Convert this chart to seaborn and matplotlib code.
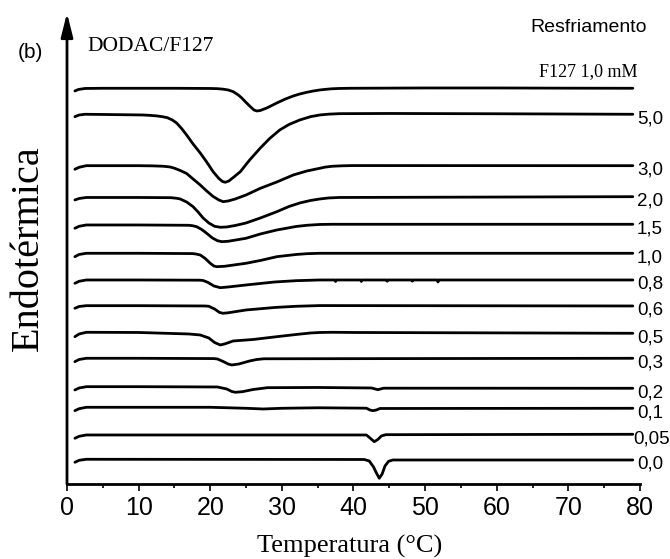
import numpy as np
import pandas as pd
import matplotlib
matplotlib.use("Agg")
import matplotlib.pyplot as plt
import seaborn as sns

# ---- data (temperature in °C, heat-flow signal in arbitrary stacked units) ----
T_f127 = [1.1, 1.6, 2.5, 5, 10, 15, 20, 21, 21.8, 22.5, 23.2, 23.6, 24, 24.4, 25, 25.6, 26.1, 26.5, 27, 27.9, 29.3, 30.5, 31.6, 32.5, 33.5, 34.4, 35.3, 36.2, 37, 38, 39.5, 50, 60, 70, 79]
y_f127 = [393, 394.5, 395.5, 395.7, 395.7, 395.7, 395.5, 395.3, 394.8, 394, 392.3, 390.5, 388.5, 386, 381.5, 377.3, 374, 373, 373.5, 376, 381, 385, 388, 390, 391.7, 393, 394, 394.7, 395.2, 395.5, 395.7, 396, 396, 395.8, 395.7]

T_50 = [1.1, 1.7, 2.5, 5, 10.6, 11.8, 12.6, 13.3, 14, 14.7, 15.3, 16, 16.7, 17.6, 18.6, 19.5, 20.4, 21.2, 21.7, 22.1, 22.6, 23.3, 24.2, 25.5, 27, 28.3, 29.7, 31, 32.5, 34, 35.3, 36.5, 38, 45, 60, 79]
y_50 = [367.3, 369, 369.7, 369.5, 369, 368.5, 368, 367.3, 366.3, 364, 361, 355.5, 349, 340, 331, 322, 312.3, 305.5, 302.5, 301.7, 303, 307, 312.3, 324, 336, 345.5, 354, 359.5, 364, 367.3, 369, 369.8, 370.3, 370.5, 370.2, 369.7]

T_30 = [1.1, 1.7, 2.7, 10, 12, 13.5, 14.4, 15.1, 15.8, 16.7, 17.6, 18.6, 19.5, 20.4, 21.2, 21.8, 22.5, 23.5, 25, 27, 29.3, 31.6, 33.5, 35.3, 36, 37, 38.5, 40, 79]
y_30 = [314.7, 316.7, 318.3, 318.3, 318.1, 317.7, 317, 315.5, 313.5, 310.5, 305, 299, 293, 287.5, 284, 282.3, 283, 285, 289, 295.7, 302, 309, 313, 315.7, 316.8, 317.7, 318.2, 318.4, 318.3]

T_20 = [1.1, 1.7, 2.7, 10, 14.5, 15.3, 15.8, 16.7, 17.6, 18.3, 19, 19.8, 20.6, 21.4, 22.3, 23.5, 25, 27, 29.3, 31, 32.5, 34, 35.3, 36.5, 38, 79]
y_20 = [284, 285.5, 286.5, 286.5, 286.3, 285.7, 285, 282, 277.3, 272, 266, 261, 257.7, 256.7, 257, 258.5, 261, 266, 272.3, 277.5, 281, 283.5, 285, 286, 286.5, 287.3]

T_15 = [1.1, 1.7, 2.7, 10, 17, 17.5, 18.1, 18.8, 19.5, 20.3, 21, 21.6, 22.5, 25, 27, 29.3, 32, 33.5, 35.3, 37, 79]
y_15 = [255.7, 257.7, 259, 259, 258.7, 258.3, 257.3, 254.5, 250.7, 246, 243.3, 242.3, 242.7, 245.7, 250, 254, 257.5, 258.7, 259.5, 259.7, 259.7]

T_10 = [1.1, 1.7, 2.7, 10, 17.5, 18, 18.6, 19.3, 20, 20.5, 20.9, 22, 25, 27, 29.3, 32, 33.5, 35.3, 79]
y_10 = [227.3, 229.5, 230.7, 230.7, 230.4, 230, 229, 225.5, 220.7, 218, 217.3, 217.7, 220.7, 223.5, 227.3, 229.5, 230.3, 230.7, 230.7]

T_08 = [1.1, 1.7, 2.7, 10, 18.5, 19, 19.7, 20.5, 21.4, 22.5, 25, 29, 32, 35.3, 37.4, 37.5, 37.6, 41.0, 41.1, 41.2, 44.6, 44.7, 44.8, 48.1, 48.2, 48.3, 51.7, 51.8, 51.9, 79]
y_08 = [200.7, 202.7, 204, 204, 203.8, 203.5, 201.5, 198, 196.3, 197, 199, 202, 203.3, 204, 204, 202.5, 204, 204, 202.5, 204, 204, 202.8, 204, 204, 202.8, 204, 204, 202, 204, 204]

T_06 = [1.1, 1.7, 2.7, 10, 19.3, 19.8, 20.6, 21.3, 21.8, 22.5, 25, 29, 32, 35.3, 79]
y_06 = [175.7, 177.5, 178.3, 178.3, 178, 177.7, 175, 171.5, 170.7, 171.2, 174, 176.5, 177.7, 178.4, 178]

T_05 = [1.1, 1.7, 2.7, 10, 17, 18.6, 19.8, 20.6, 21.4, 22, 23.2, 26, 29.3, 32, 34, 35.3, 37, 40, 79]
y_05 = [147.3, 150, 151.7, 151.5, 150, 149, 146, 141.5, 139, 140, 143, 144.5, 147.3, 149.5, 151, 151.5, 151.7, 151.5, 150.7]

T_03 = [1.1, 1.7, 2.7, 10, 20.5, 21, 21.8, 22.5, 23, 24, 25.5, 26.5, 27.5, 79]
y_03 = [122.3, 124.5, 125.7, 125.7, 125.4, 125, 122.5, 120, 119, 120, 123, 124.5, 125.2, 125.7]

T_02 = [1.1, 1.7, 2.7, 10, 21, 22.3, 23, 23.5, 24.5, 26, 28, 35, 42.5, 43.4, 44.2, 79]
y_02 = [94, 96, 97.3, 97.3, 97, 95, 92.5, 91.7, 92.3, 94.5, 96.3, 96.5, 96, 94.3, 95.8, 95.7]

T_01 = [1.1, 1.7, 2.7, 20, 25, 27.4, 30, 35, 41.8, 42.3, 42.7, 43.2, 43.7, 79]
y_01 = [73.3, 75.3, 76.7, 76.7, 75.7, 75, 75.7, 76.2, 75.8, 74, 73.3, 74, 75.5, 75.7]

T_005 = [1.1, 1.7, 2.7, 41.8, 42.3, 42.9, 43.4, 43.9, 44.5, 79]
y_005 = [45.7, 47.7, 49, 49, 46, 42.3, 44.5, 48, 49.3, 49.7]

T_00 = [1.1, 1.7, 2.7, 41.5, 42.2, 42.8, 43.2, 43.6, 44.0, 44.4, 44.9, 45.5, 79]
y_00 = [21.7, 23.7, 24.7, 24.5, 23, 17, 11, 5.7, 10, 18, 22.7, 24, 24]

sample_labels = ["5,0", "3,0", "2,0", "1,5", "1,0", "0,8", "0,6", "0,5", "0,3", "0,2", "0,1", "0,05", "0,0"]
sample_T = [T_50, T_30, T_20, T_15, T_10, T_08, T_06, T_05, T_03, T_02, T_01, T_005, T_00]
sample_y = [y_50, y_30, y_20, y_15, y_10, y_08, y_06, y_05, y_03, y_02, y_01, y_005, y_00]

xticks = [0, 10, 20, 30, 40, 50, 60, 70, 80]

# ---- build long table ----
rows = []
for T, y in zip(T_f127, y_f127):
    rows.append(("F127", T, y))
for lab, Ts, ys in zip(sample_labels, sample_T, sample_y):
    for T, y in zip(Ts, ys):
        rows.append((lab, T, y))
df = pd.DataFrame(rows, columns=["curve", "T", "y"])

sns.set_theme(style="white")
plt.rcParams["font.family"] = ["Liberation Sans", "DejaVu Sans"]

fig = plt.figure(figsize=(6.7, 5.59), dpi=100)
ax = fig.add_axes([0.1, 0.1342, 0.8552, 0.8426])

sns.lineplot(data=df, x="T", y="y", units="curve", estimator=None, sort=False,
             color="black", lw=2.0, ax=ax)

ax.set_xlim(0, 80)
ax.set_ylim(0, 471)
ax.set_xlabel("")
ax.set_ylabel("")
ax.set_yticks([])
ax.set_xticks(xticks)
ax.set_xticklabels([str(t) for t in xticks])
ax.set_xticks(np.arange(5, 80, 10), minor=True)
ax.tick_params(axis="x", which="both", bottom=True, direction="out", color="black",
               width=1.2, labelsize=18, pad=3.5, labelcolor="black")
ax.tick_params(axis="x", which="major", length=5)
ax.tick_params(axis="x", which="minor", length=3)
for s in ["top", "right", "left"]:
    ax.spines[s].set_visible(False)
ax.spines["bottom"].set_linewidth(2)
ax.spines["bottom"].set_color("black")

# vertical arrow axis
ax.annotate("", xy=(0, 1), xytext=(0, 0), xycoords="axes fraction", textcoords="axes fraction",
            arrowprops=dict(arrowstyle="-|>,head_length=0.72,head_width=0.18", lw=2,
                            color="black", shrinkA=0, shrinkB=0, mutation_scale=20),
            annotation_clip=False)

# right labels
for lab, ys in zip(sample_labels, sample_y):
    xl = 79.0 if lab == "0,05" else 79.6
    ax.text(xl, ys[-1] - 4.5, lab, ha="left", va="center", fontsize=13.5,
            color="black", clip_on=False)

serif = ["Liberation Serif", "DejaVu Serif"]
ax.text(79.6, 412, "F127 1,0 mM", ha="right", va="center", fontsize=13, family=serif, color="black")
ax.text(2.9, 437, "DODAC/F127", ha="left", va="center", fontsize=15.5, family=serif, color="black")

fig.text(30 / 670, 1 - 53 / 559, "(b)", ha="center", va="center", fontsize=15, color="black")
fig.text(589 / 670, 1 - 28 / 559, "Resfriamento", ha="center", va="center", fontsize=14, color="black")
fig.text(28 / 670, 1 - 248 / 559, "Endotérmica", ha="center", va="center", rotation=90,
         fontsize=29, family=serif, color="black")
fig.text(350 / 670, 1 - 546 / 559, "Temperatura (°C)", ha="center", va="center",
         fontsize=19, family=serif, color="black")

fig.savefig("out.png", dpi=100, facecolor="white")
